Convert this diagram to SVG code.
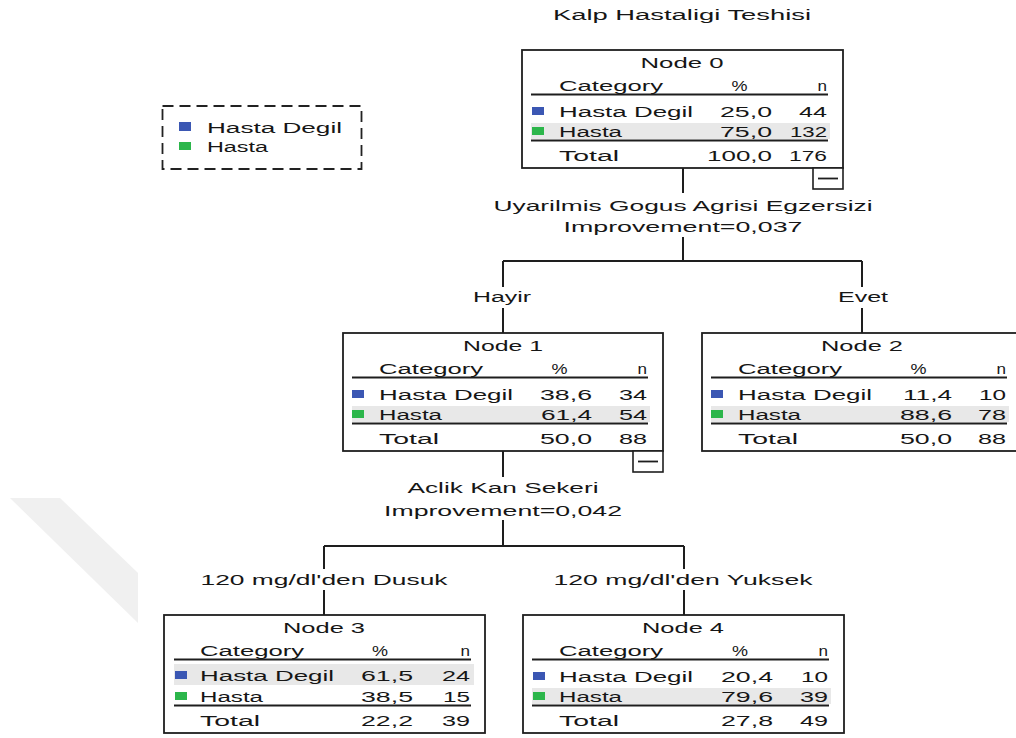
<svg xmlns="http://www.w3.org/2000/svg" width="1016" height="738" viewBox="0 0 1016 738">
  <style>
    text { font-family: "Liberation Sans", Arial, sans-serif; font-size: 14px; fill: #161616; }
    .m { text-anchor: middle; }
    .e { text-anchor: end; }
    .box { fill: #ffffff; stroke: #1e1e1e; stroke-width: 1.8; }
    .btn { fill: #ffffff; stroke: #1e1e1e; stroke-width: 1.6; }
    .rule { stroke: #1e1e1e; stroke-width: 1.8; }
    .hl { fill: #e8e8e8; }
    .blue { fill: #3b57b3; }
    .green { fill: #2cb64b; }
    .wire { fill: none; stroke: #1e1e1e; stroke-width: 2; }
    .legend { fill: #ffffff; stroke: #222222; stroke-width: 1.8; stroke-dasharray: 11 6; }
  </style>

  <!-- faint background band -->
  <polygon points="10,498 60,498 138,573 138,623" fill="#f0f0f0"/>

  <!-- title -->
  <text class="m" x="682" y="20" textLength="258" lengthAdjust="spacingAndGlyphs">Kalp Hastaligi Teshisi</text>

  <!-- legend -->
  <g id="legend">
    <rect class="legend" x="162.5" y="106" width="199" height="63"/>
    <rect class="blue" x="179" y="122" width="12" height="9"/>
    <text x="207" y="133" textLength="135" lengthAdjust="spacingAndGlyphs">Hasta Degil</text>
    <rect class="green" x="179" y="142" width="12" height="8"/>
    <text x="207" y="152" textLength="61" lengthAdjust="spacingAndGlyphs">Hasta</text>
  </g>

  <!-- connectors and split labels -->
  <g id="connectors">
    <path class="wire" d="M683 168 V193 M683 237 V261 M503 261 H862 M503 261 V287 M503 308 V333 M862 261 V287 M862 308 V333"/>
    <path class="wire" d="M503 451 V477 M503 520 V546 M324 546 H684 M324 546 V569 M324 590 V615 M684 546 V569 M684 590 V615"/>
    <text class="m" x="683" y="211" textLength="379" lengthAdjust="spacingAndGlyphs">Uyarilmis Gogus Agrisi Egzersizi</text>
    <text class="m" x="683" y="232" textLength="239" lengthAdjust="spacingAndGlyphs">Improvement=0,037</text>
    <text class="m" x="502" y="302" textLength="58" lengthAdjust="spacingAndGlyphs">Hayir</text>
    <text class="m" x="863" y="302" textLength="50" lengthAdjust="spacingAndGlyphs">Evet</text>
    <text class="m" x="503" y="493" textLength="191" lengthAdjust="spacingAndGlyphs">Aclik Kan Sekeri</text>
    <text class="m" x="503" y="516" textLength="238" lengthAdjust="spacingAndGlyphs">Improvement=0,042</text>
    <text class="m" x="324" y="585" textLength="247" lengthAdjust="spacingAndGlyphs">120 mg/dl'den Dusuk</text>
    <text class="m" x="683" y="585" textLength="259" lengthAdjust="spacingAndGlyphs">120 mg/dl'den Yuksek</text>
  </g>

  <!-- Node 0 -->
  <g id="node0" transform="translate(522,50)">
    <rect class="box" x="0" y="0" width="321" height="118"/>
    <text class="m" x="160" y="18" textLength="83" lengthAdjust="spacingAndGlyphs">Node 0</text>
    <text x="37" y="41" textLength="104" lengthAdjust="spacingAndGlyphs">Category</text>
    <text class="m" x="217.5" y="41" textLength="16" lengthAdjust="spacingAndGlyphs">%</text>
    <text class="e" x="305" y="41" textLength="9.5" lengthAdjust="spacingAndGlyphs">n</text>
    <line class="rule" x1="9" y1="44.5" x2="306" y2="44.5"/>
    <rect class="hl" x="9" y="73" width="299" height="16"/>
    <rect class="blue" x="10" y="57" width="12" height="8"/>
    <text x="37" y="67" textLength="134" lengthAdjust="spacingAndGlyphs">Hasta Degil</text>
    <text class="e" x="250" y="67" textLength="52" lengthAdjust="spacingAndGlyphs">25,0</text>
    <text class="e" x="305" y="67" textLength="28" lengthAdjust="spacingAndGlyphs">44</text>
    <rect class="green" x="10" y="77" width="12" height="8"/>
    <text x="37" y="87" textLength="63" lengthAdjust="spacingAndGlyphs">Hasta</text>
    <text class="e" x="250" y="87" textLength="52" lengthAdjust="spacingAndGlyphs">75,0</text>
    <text class="e" x="305" y="87" textLength="37" lengthAdjust="spacingAndGlyphs">132</text>
    <line class="rule" x1="9" y1="90.5" x2="306" y2="90.5"/>
    <text x="37" y="111" textLength="60" lengthAdjust="spacingAndGlyphs">Total</text>
    <text class="e" x="250" y="111" textLength="65" lengthAdjust="spacingAndGlyphs">100,0</text>
    <text class="e" x="305" y="111" textLength="38" lengthAdjust="spacingAndGlyphs">176</text>
    <rect class="btn" x="291" y="118" width="30" height="21"/>
    <line class="rule" x1="296" y1="128.5" x2="316" y2="128.5"/>
  </g>

  <!-- Node 1 -->
  <g id="node1" transform="translate(343,333)">
    <rect class="box" x="0" y="0" width="320" height="118"/>
    <text class="m" x="160" y="18" textLength="80" lengthAdjust="spacingAndGlyphs">Node 1</text>
    <text x="36" y="41" textLength="104" lengthAdjust="spacingAndGlyphs">Category</text>
    <text class="m" x="216.5" y="41" textLength="16" lengthAdjust="spacingAndGlyphs">%</text>
    <text class="e" x="304" y="41" textLength="9.5" lengthAdjust="spacingAndGlyphs">n</text>
    <line class="rule" x1="9" y1="44.5" x2="305" y2="44.5"/>
    <rect class="hl" x="9" y="73" width="298" height="16"/>
    <rect class="blue" x="9" y="57" width="12" height="8"/>
    <text x="36" y="67" textLength="134" lengthAdjust="spacingAndGlyphs">Hasta Degil</text>
    <text class="e" x="249" y="67" textLength="52" lengthAdjust="spacingAndGlyphs">38,6</text>
    <text class="e" x="304" y="67" textLength="28" lengthAdjust="spacingAndGlyphs">34</text>
    <rect class="green" x="9" y="77" width="12" height="8"/>
    <text x="36" y="87" textLength="63" lengthAdjust="spacingAndGlyphs">Hasta</text>
    <text class="e" x="249" y="87" textLength="51" lengthAdjust="spacingAndGlyphs">61,4</text>
    <text class="e" x="304" y="87" textLength="28" lengthAdjust="spacingAndGlyphs">54</text>
    <line class="rule" x1="9" y1="90.5" x2="305" y2="90.5"/>
    <text x="36" y="111" textLength="60" lengthAdjust="spacingAndGlyphs">Total</text>
    <text class="e" x="249" y="111" textLength="52" lengthAdjust="spacingAndGlyphs">50,0</text>
    <text class="e" x="304" y="111" textLength="28" lengthAdjust="spacingAndGlyphs">88</text>
    <rect class="btn" x="290" y="118" width="30" height="21"/>
    <line class="rule" x1="295" y1="128.5" x2="315" y2="128.5"/>
  </g>

  <!-- Node 2 -->
  <g id="node2" transform="translate(702,333)">
    <rect class="box" x="0" y="0" width="321" height="118"/>
    <text class="m" x="160" y="18" textLength="82" lengthAdjust="spacingAndGlyphs">Node 2</text>
    <text x="36" y="41" textLength="104" lengthAdjust="spacingAndGlyphs">Category</text>
    <text class="m" x="216.5" y="41" textLength="16" lengthAdjust="spacingAndGlyphs">%</text>
    <text class="e" x="304" y="41" textLength="9.5" lengthAdjust="spacingAndGlyphs">n</text>
    <line class="rule" x1="9" y1="44.5" x2="305" y2="44.5"/>
    <rect class="hl" x="9" y="73" width="298" height="16"/>
    <rect class="blue" x="9" y="57" width="12" height="8"/>
    <text x="36" y="67" textLength="134" lengthAdjust="spacingAndGlyphs">Hasta Degil</text>
    <text class="e" x="250" y="67" textLength="49" lengthAdjust="spacingAndGlyphs">11,4</text>
    <text class="e" x="304" y="67" textLength="27" lengthAdjust="spacingAndGlyphs">10</text>
    <rect class="green" x="9" y="77" width="12" height="8"/>
    <text x="36" y="87" textLength="63" lengthAdjust="spacingAndGlyphs">Hasta</text>
    <text class="e" x="250" y="87" textLength="52" lengthAdjust="spacingAndGlyphs">88,6</text>
    <text class="e" x="304" y="87" textLength="28" lengthAdjust="spacingAndGlyphs">78</text>
    <line class="rule" x1="9" y1="90.5" x2="305" y2="90.5"/>
    <text x="36" y="111" textLength="60" lengthAdjust="spacingAndGlyphs">Total</text>
    <text class="e" x="250" y="111" textLength="52" lengthAdjust="spacingAndGlyphs">50,0</text>
    <text class="e" x="304" y="111" textLength="28" lengthAdjust="spacingAndGlyphs">88</text>
  </g>

  <!-- Node 3 -->
  <g id="node3" transform="translate(164,615)">
    <rect class="box" x="0" y="0" width="321" height="118"/>
    <text class="m" x="160" y="18" textLength="82" lengthAdjust="spacingAndGlyphs">Node 3</text>
    <text x="36" y="41" textLength="104" lengthAdjust="spacingAndGlyphs">Category</text>
    <text class="m" x="216" y="41" textLength="16" lengthAdjust="spacingAndGlyphs">%</text>
    <text class="e" x="306" y="41" textLength="9.5" lengthAdjust="spacingAndGlyphs">n</text>
    <line class="rule" x1="10" y1="44.5" x2="307" y2="44.5"/>
    <rect class="hl" x="10" y="49" width="300" height="21"/>
    <rect class="blue" x="11" y="56" width="12" height="8"/>
    <text x="36" y="66" textLength="134" lengthAdjust="spacingAndGlyphs">Hasta Degil</text>
    <text class="e" x="249" y="66" textLength="52" lengthAdjust="spacingAndGlyphs">61,5</text>
    <text class="e" x="306" y="66" textLength="28" lengthAdjust="spacingAndGlyphs">24</text>
    <rect class="green" x="11" y="77" width="12" height="8"/>
    <text x="36" y="87" textLength="63" lengthAdjust="spacingAndGlyphs">Hasta</text>
    <text class="e" x="249" y="87" textLength="52" lengthAdjust="spacingAndGlyphs">38,5</text>
    <text class="e" x="306" y="87" textLength="27" lengthAdjust="spacingAndGlyphs">15</text>
    <line class="rule" x1="10" y1="90.5" x2="307" y2="90.5"/>
    <text x="36" y="111" textLength="60" lengthAdjust="spacingAndGlyphs">Total</text>
    <text class="e" x="249" y="111" textLength="52" lengthAdjust="spacingAndGlyphs">22,2</text>
    <text class="e" x="306" y="111" textLength="28" lengthAdjust="spacingAndGlyphs">39</text>
  </g>

  <!-- Node 4 -->
  <g id="node4" transform="translate(523,615)">
    <rect class="box" x="0" y="0" width="321" height="118"/>
    <text class="m" x="160" y="18" textLength="82" lengthAdjust="spacingAndGlyphs">Node 4</text>
    <text x="36" y="41" textLength="104" lengthAdjust="spacingAndGlyphs">Category</text>
    <text class="m" x="217" y="41" textLength="16" lengthAdjust="spacingAndGlyphs">%</text>
    <text class="e" x="305" y="41" textLength="9.5" lengthAdjust="spacingAndGlyphs">n</text>
    <line class="rule" x1="9" y1="44.5" x2="306" y2="44.5"/>
    <rect class="hl" x="9" y="73" width="299" height="16"/>
    <rect class="blue" x="10" y="57" width="12" height="8"/>
    <text x="36" y="67" textLength="134" lengthAdjust="spacingAndGlyphs">Hasta Degil</text>
    <text class="e" x="250" y="67" textLength="52" lengthAdjust="spacingAndGlyphs">20,4</text>
    <text class="e" x="305" y="67" textLength="27" lengthAdjust="spacingAndGlyphs">10</text>
    <rect class="green" x="10" y="77" width="12" height="8"/>
    <text x="36" y="87" textLength="63" lengthAdjust="spacingAndGlyphs">Hasta</text>
    <text class="e" x="250" y="87" textLength="52" lengthAdjust="spacingAndGlyphs">79,6</text>
    <text class="e" x="305" y="87" textLength="28" lengthAdjust="spacingAndGlyphs">39</text>
    <line class="rule" x1="9" y1="90.5" x2="306" y2="90.5"/>
    <text x="36" y="111" textLength="60" lengthAdjust="spacingAndGlyphs">Total</text>
    <text class="e" x="250" y="111" textLength="52" lengthAdjust="spacingAndGlyphs">27,8</text>
    <text class="e" x="305" y="111" textLength="28" lengthAdjust="spacingAndGlyphs">49</text>
  </g>
</svg>
